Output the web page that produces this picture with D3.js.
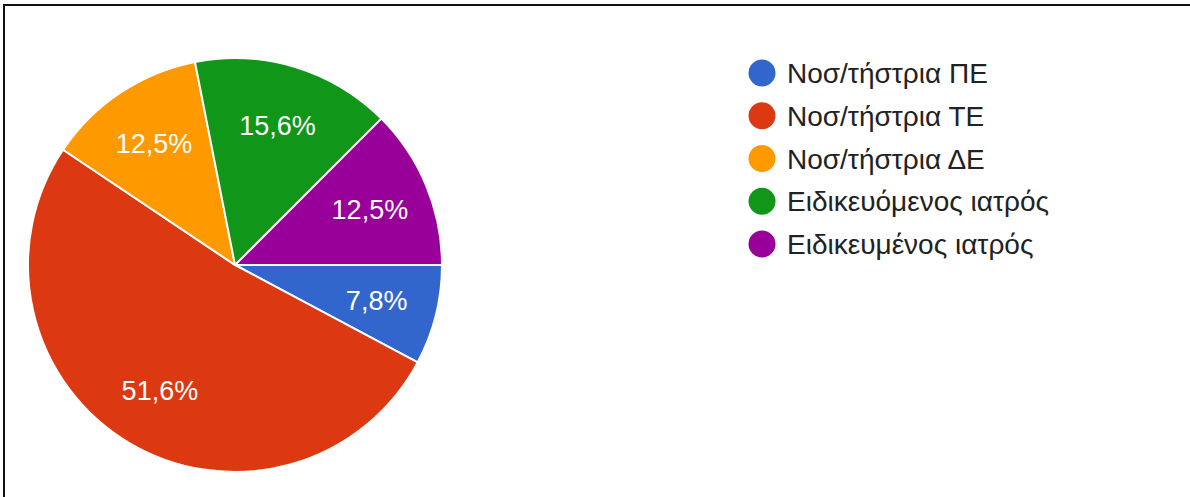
<!DOCTYPE html>
<html>
<head>
<meta charset="utf-8">
<script src="https://cdn.jsdelivr.net/npm/d3@7"></script>
<style>
  html, body { margin: 0; padding: 0; background: #fff; }
  svg { display: block; font-family: "Liberation Sans", Arial, sans-serif; }
</style>
</head>
<body>
<svg id="chart" width="1190" height="497"></svg>
<script>
// Staff categories and their share of responses (%)
const categories = [
  "Νοσ/τήστρια ΠΕ",
  "Νοσ/τήστρια ΤΕ",
  "Νοσ/τήστρια ΔΕ",
  "Ειδικευόμενος ιατρός",
  "Ειδικευμένος ιατρός"
];
const values = [7.8, 51.6, 12.5, 15.6, 12.5];
const colors = ["#3366cc", "#dc3912", "#ff9900", "#109618", "#990099"];

const svg = d3.select("#chart");

// Frame lines (top and left)
svg.append("line").attr("x1", 3).attr("x2", 1190).attr("y1", 5).attr("y2", 5)
  .attr("stroke", "#111").attr("stroke-width", 2);
svg.append("line").attr("x1", 4).attr("x2", 4).attr("y1", 4).attr("y2", 497)
  .attr("stroke", "#111").attr("stroke-width", 2);

const cx = 235, cy = 265, R = 207, labelR = 146;

const pie = d3.pie()
  .sort(null)
  .value(d => d)
  .startAngle(Math.PI / 2)
  .endAngle(Math.PI / 2 + 2 * Math.PI);

const arcs = pie(values);
const arc = d3.arc().innerRadius(0).outerRadius(R);
const labelArc = d3.arc().innerRadius(labelR).outerRadius(labelR);

const g = svg.append("g").attr("transform", `translate(${cx},${cy})`);

g.selectAll("path.slice")
  .data(arcs)
  .join("path")
  .attr("class", "slice")
  .attr("d", arc)
  .attr("fill", (d, i) => colors[i])
  .attr("stroke", "#fff")
  .attr("stroke-width", 2)
  .attr("stroke-linejoin", "round");

const fmt = v => v.toFixed(1).replace(".", ",") + "%";

g.selectAll("text.pct")
  .data(arcs)
  .join("text")
  .attr("class", "pct")
  .attr("transform", d => `translate(${labelArc.centroid(d)})`)
  .attr("text-anchor", "middle")
  .attr("dy", "0.36em")
  .attr("fill", "#fff")
  .attr("font-size", 27)
  .text(d => fmt(d.value));

// Legend
const legend = svg.append("g").attr("transform", "translate(762,73)");
const rowH = 42.75;
const rows = legend.selectAll("g.row")
  .data(categories)
  .join("g")
  .attr("class", "row")
  .attr("transform", (d, i) => `translate(0,${i * rowH})`);

rows.append("circle")
  .attr("r", 13.5)
  .attr("fill", (d, i) => colors[i]);

rows.append("text")
  .attr("x", 25)
  .attr("dy", "0.36em")
  .attr("font-size", 28)
  .attr("fill", "#222")
  .text(d => d);
</script>
</body>
</html>
